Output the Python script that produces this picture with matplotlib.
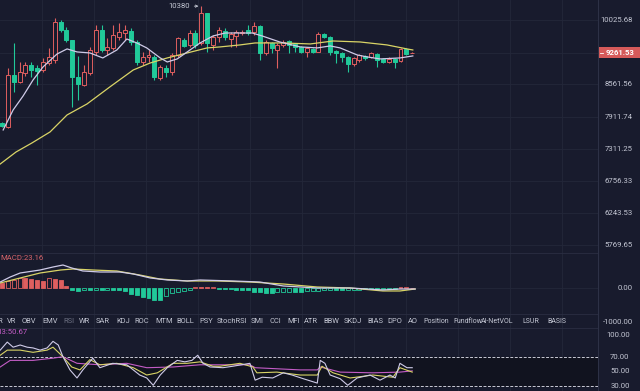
import matplotlib
matplotlib.use("Agg")
import matplotlib.pyplot as plt
from matplotlib.patches import Rectangle
from matplotlib.ticker import NullLocator

plt.rcParams['font.family'] = ['Roboto', 'DejaVu Sans']

# bougies (une par période)
opens = [7789, 7713, 8765, 8615, 8808, 8983, 8917, 8873, 9027, 9094,
         9984, 9789, 9552, 8722, 8552, 8808, 9275, 9789, 9320, 9367,
         9623, 9717, 9765, 9505, 9049, 9162, 9162, 8700, 8917, 8830,
         9207, 9552, 9436, 9717, 9482, 10207, 9436, 9623, 9765, 9575,
         9646, 9717, 9789, 9741, 9887, 9252, 9482, 9320, 9436, 9528,
         9459, 9390, 9275, 9344, 9275, 9694, 9623, 9297, 9252, 9162,
         9005, 9094, 9184, 9162, 9229, 9117, 9049, 9117, 9071, 9344, 9245]
closes = [7732, 8765, 8615, 8830, 8983, 8873, 8852, 9049, 9162, 9984,
          9789, 9552, 8722, 8573, 8830, 9320, 9789, 9320, 9390, 9670,
          9741, 9789, 9505, 9049, 9162, 9207, 8722, 8939, 8830, 9207,
          9599, 9413, 9717, 9436, 10207, 9482, 9623, 9789, 9623, 9694,
          9741, 9741, 9717, 9887, 9252, 9505, 9367, 9436, 9505, 9436,
          9390, 9275, 9367, 9275, 9694, 9623, 9275, 9252, 9162, 9005,
          9139, 9207, 9139, 9252, 9094, 9049, 9117, 9049, 9344, 9229, 9261.53]
highs = [7809, 8917, 9482, 9049, 9049, 9049, 8983, 9139, 9367, 10082,
         10033, 9862, 9560, 9184, 8983, 9390, 9911, 9911, 9599, 9911,
         9959, 9911, 9838, 9552, 9275, 9320, 9207, 8983, 8983, 9252,
         9623, 9599, 9789, 9789, 10380, 10215, 9670, 9862, 9838, 9741,
         9789, 9789, 9911, 9984, 9911, 9552, 9505, 9482, 9552, 9552,
         9482, 9413, 9390, 9367, 9741, 9717, 9646, 9320, 9275, 9184,
         9162, 9229, 9207, 9275, 9252, 9139, 9162, 9139, 9367, 9367, 9275]
lows = [7713, 7694, 8406, 8594, 8743, 8722, 8552, 8830, 8983, 9027,
        9741, 9505, 8102, 8242, 8531, 8765, 9207, 9275, 9207, 9320,
        9552, 9552, 9436, 8983, 8983, 9049, 8657, 8657, 8722, 8765,
        9162, 9390, 9390, 9367, 9436, 9275, 9320, 9505, 9552, 9390,
        9390, 9670, 9670, 9670, 9094, 9207, 9252, 8917, 9390, 9252,
        9275, 9252, 9162, 9252, 9270, 9599, 9207, 9027, 9049, 8830,
        8961, 9049, 9094, 9139, 8939, 9027, 9027, 8917, 9049, 9207, 9240]
last_price = 9261.53
top_high = 10380

# moyennes mobiles
ma_fast_x = [0.2, 1.9, 3.6, 5.3, 7.0, 9.4, 11.1, 12.8, 15.0, 17.2, 19.6, 21.3, 23.0, 24.7,
             27.0, 28.2, 29.9, 31.6, 33.8, 36.0, 38.1, 40.6, 42.7, 44.4, 47.4, 50.9, 53.8,
             56.0, 57.7, 60.6, 62.3, 64.5, 67.9, 70.1]
ma_fast = [7656, 8042, 8323, 8657, 8939, 9229, 9344, 9275, 9252, 9139, 9320, 9575, 9482, 9367,
           9139, 9049, 9117, 9275, 9482, 9646, 9717, 9717, 9717, 9646, 9505, 9390, 9367,
           9413, 9367, 9207, 9162, 9117, 9139, 9184]
ma_slow_x = [-0.3, 2.4, 5.1, 8.2, 11.1, 14.5, 18.4, 22.4, 25.3, 28.2, 31.6, 35.0, 37.2, 40.6,
             43.2, 48.0, 52.6, 56.5, 61.1, 65.7, 69.1, 70.1]
ma_slow = [7042, 7253, 7415, 7619, 7944, 8161, 8510, 8873, 9027, 9139, 9252, 9367, 9390, 9436,
           9482, 9482, 9459, 9528, 9505, 9436, 9344, 9320]
price_ticks = [10025.68, 9261.53, 8561.56, 7911.74, 7311.25, 6756.33, 6243.53, 5769.65]

# MACD
macd_hist = [150, 200, 250, 300, 290, 260, 230, 220, 290, 280, 250, 60,
             -60, -80, -40, -60, -50, -60, -40, -50, -50, -90,
             -170, -210, -260, -300, -330, -330, -230, -150, -100, -70, -50,
             40, 30, 25, 35, -25, -30, -35, -40, -45, -50,
             -100, -120, -125, -130, -110, -100, -95, -110, -120, -90, -80, -70,
             -50, -40, -55, -65, -60, -45, -40, -35, -30, -30, -25, -20, -20,
             30, 35, 23.16]
dif_x = [-0.3, 1.4, 3.1, 6.5, 8.7, 10.4, 11.9, 13.8, 16.7, 20.1, 22.4, 25.3, 28.2, 31.6,
         33.8, 39.4, 44.0, 48.0, 53.8, 59.4, 65.0, 67.9, 70.5]
dif = [185, 332, 450, 538, 626, 685, 597, 509, 479, 479, 421, 303, 244, 215,
       244, 215, 185, 68, 9, 9, -50, -21, -21]
dea_x = [-0.3, 3.1, 6.5, 10.0, 12.1, 15.5, 19.6, 23.5, 26.9, 31.6, 36.7, 42.3, 48.0, 53.8,
         59.4, 65.0, 67.9, 70.5]
dea = [156, 303, 450, 538, 568, 538, 509, 391, 274, 215, 215, 185, 126, 38,
       9, -79, -79, -21]
macd_ticks = [0, -1000]

# RSI
rsi6_x = [-0.3, 0.9, 1.9, 3.1, 4.3, 5.3, 6.5, 7.7, 8.7, 9.6, 10.4, 11.6, 12.8, 13.8, 15.5,
          16.7, 18.9, 21.3, 23.5, 24.7, 25.8, 27.0, 28.2, 29.9, 31.2, 32.4, 33.4, 34.3,
          35.5, 37.7, 39.4, 42.3, 43.2, 44.4, 46.2, 48.0, 49.5, 51.4, 53.8, 54.3, 55.1,
          56.0, 57.7, 59.0, 60.6, 62.8, 64.5, 66.2, 67.1, 67.9, 69.1, 70.0]
rsi6 = [79, 90, 83, 86, 83, 82, 79, 82, 91, 86, 70, 52, 41, 52, 68,
        55, 61, 59, 45, 41, 31, 45, 55, 65, 63, 65, 72, 61,
        56, 55, 57, 61, 38, 42, 41, 48, 45, 40, 34, 65, 61,
        45, 40, 31, 41, 45, 38, 45, 41, 61, 55, 55]
rsi12_x = [-0.3, 0.9, 3.1, 5.3, 7.7, 8.7, 10.4, 11.9, 13.3, 15.0, 16.7, 19.6, 22.4, 24.7,
           26.5, 29.2, 31.6, 33.8, 36.0, 37.2, 40.6, 42.8, 43.5, 46.9, 50.9, 53.8, 54.6,
           56.5, 59.4, 63.3, 66.7, 67.9, 70.0]
rsi12 = [72, 79, 79, 76, 79, 83, 70, 56, 52, 66, 59, 61, 55, 45,
         48, 61, 61, 63, 57, 57, 61, 56, 48, 49, 45, 45, 57,
         48, 41, 45, 42, 55, 49]
rsi24_x = [-0.3, 1.4, 5.3, 8.7, 10.4, 12.8, 16.7, 21.3, 24.7, 29.2, 33.8, 42.3, 43.2,
           50.9, 53.8, 54.3, 57.7, 63.3, 67.9, 70.0]
rsi24 = [56, 65, 65, 68, 70, 61, 59, 61, 55, 56, 59, 59, 55,
         52, 52, 56, 49, 48, 49, 50.67]
rsi_ticks = [100, 70, 50, 30]

tabs = ["BRAR", "VR", "OBV", "EMV", "RSI", "WR", "SAR", "KDJ", "ROC", "MTM", "BOLL", "PSY",
        "StochRSI", "SMI", "CCI", "MFI", "ATR", "BBW", "SKDJ", "BIAS", "DPO", "AO",
        "Position", "Fundflow", "AI-NetVOL", "LSUR", "BASIS"]

BG = '#181b2d'
GRID = '#23273a'
UP = '#df5f5f'
DOWN = '#21c999'
WHITE_L = '#cfcbe8'
YELLOW_L = '#d9d466'
PINK_L = '#c35cc6'
TXT = '#c3c6d3'

W, H = 640, 391
fig = plt.figure(figsize=(6.4, 3.91), dpi=100, facecolor=BG)


def zone(top, bottom):
    return [0, 1 - bottom / H, 598 / W, (bottom - top) / H]


ax = fig.add_axes(zone(0, 253))
ax_macd = fig.add_axes(zone(253, 328))
ax_rsi = fig.add_axes(zone(328, 391))

grid_x = [6.83 + 8.87 * k for k in range(12)]
for a in (ax, ax_macd, ax_rsi):
    a.set_facecolor(BG)
    a.set_xlim(-0.34, 101.7)
    for s in a.spines.values():
        s.set_visible(False)
    a.set_xticks([])
    a.set_yticks([])
    for gx in grid_x:
        a.axvline(gx, color=GRID, lw=0.6, zorder=0)

# --- panneau prix ---
ax.set_yscale('log')
ax.set_ylim(5658, 10538)
ax.yaxis.set_minor_locator(NullLocator())
ax.yaxis.set_major_locator(NullLocator())
for p in price_ticks:
    ax.axhline(p, color=GRID, lw=0.6, zorder=0)
    if p == last_price:
        continue  # caché par l'étiquette du dernier prix
    ax.text(1.0585, p, f"{p:.2f}", transform=ax.get_yaxis_transform(), ha='right',
            va='center', color=TXT, fontsize=5.6, clip_on=False)

for i in range(len(opens)):
    o, c, h, l = opens[i], closes[i], highs[i], lows[i]
    up = c >= o
    col = UP if up else DOWN
    lo, hi = min(o, c), max(o, c)
    ax.vlines(i, l, lo, color=col, lw=0.8, zorder=2)
    ax.vlines(i, hi, h, color=col, lw=0.8, zorder=2)
    ax.add_patch(Rectangle((i - 0.34, lo), 0.68, max(hi - lo, 3),
                           facecolor=BG if up else col, edgecolor=col, lw=0.7, zorder=3))

ax.plot(ma_slow_x, ma_slow, color=YELLOW_L, lw=0.9, zorder=4)
ax.plot(ma_fast_x, ma_fast, color=WHITE_L, lw=0.9, zorder=4)

ax.annotate(f"{top_high}", xy=(34, top_high), xytext=(-8, 0), textcoords='offset points',
            ha='right', va='center', color=TXT, fontsize=5.6,
            arrowprops=dict(arrowstyle='->', color=TXT, lw=0.6, shrinkA=1, shrinkB=2,
                            mutation_scale=4))

# --- MACD ---
ax_macd.set_ylim(-1168, 1038)
ax_macd.axhline(0, color=GRID, lw=0.6, zorder=0)
prev = None
for i, v in enumerate(macd_hist):
    col = UP if v >= 0 else DOWN
    hollow = prev is not None and v > prev
    ax_macd.bar(i, v, width=0.68, facecolor=BG if hollow else col, edgecolor=col,
                lw=0.6, zorder=2)
    prev = v
ax_macd.plot(dea_x, dea, color=YELLOW_L, lw=0.9, zorder=3)
ax_macd.plot(dif_x, dif, color=WHITE_L, lw=0.9, zorder=3)
for t in macd_ticks:
    ax_macd.text(1.0585, t, f"{t:.2f}", transform=ax_macd.get_yaxis_transform(), ha='right',
                 va='center', color=TXT, fontsize=5.6, clip_on=False)
fig.text(0.5 / W, 1 - 258 / H, f"MACD:{macd_hist[-1]:.2f}", color='#d5646a', fontsize=5.6,
         ha='left', va='center')

# --- RSI ---
ax_rsi.set_ylim(23.2, 109.2)
ax_rsi.axhspan(30, 70, color='#11131f', zorder=0)
for lv in (70, 30):
    ax_rsi.axhline(lv, color='#c9cad6', lw=0.7, dashes=(3, 1.6), zorder=1)
ax_rsi.plot(rsi24_x, rsi24, color=PINK_L, lw=0.8, zorder=2)
ax_rsi.plot(rsi12_x, rsi12, color=YELLOW_L, lw=0.8, zorder=3)
ax_rsi.plot(rsi6_x, rsi6, color=WHITE_L, lw=0.8, zorder=4)
for t in rsi_ticks:
    ax_rsi.text(1.053, t, f"{t:.2f}", transform=ax_rsi.get_yaxis_transform(), ha='right',
                va='center', color=TXT, fontsize=5.6, clip_on=False)
fig.text(28 / W, 1 - 332 / H, f"RSI3:{rsi24[-1]:.2f}", color=PINK_L, fontsize=5.6,
         ha='right', va='center')

# --- barre des indicateurs (positions) ---
tabs_px = [3, 7, 22, 42, 63, 79, 96, 116, 134, 155, 176, 199,
           217, 251, 269, 287, 304, 323, 344, 367, 387, 408,
           423, 453, 481, 522, 547]
for k, (lab, px) in enumerate(zip(tabs, tabs_px)):
    fig.text(px / W, 1 - 321.5 / H, lab, color='#6c7082' if lab == "RSI" else TXT,
             fontsize=5.0 if k >= 22 else 5.4, ha='right' if k == 0 else 'left',
             va='center')

# séparateurs
for py in (253, 314, 328):
    fig.add_artist(plt.Line2D([0, 598 / W], [1 - py / H] * 2, color='#2a2e42', lw=0.6))
fig.add_artist(plt.Line2D([598 / W] * 2, [0, 1], color='#2e3247', lw=0.7))

# étiquette du dernier prix
fig.add_artist(Rectangle((598 / W, 1 - 58 / H), 42 / W, 11 / H, transform=fig.transFigure,
                         facecolor='#d65a5a', edgecolor='none'))
fig.text(606 / W, 1 - 52.5 / H, f"{last_price:.2f}", color='white', fontsize=5.6,
         fontweight='bold', ha='left', va='center')
fig.add_artist(plt.Line2D([600 / W, 603 / W], [1 - 52.5 / H] * 2, color='white', lw=0.6))

fig.savefig("out.png", dpi=100, facecolor=BG)
